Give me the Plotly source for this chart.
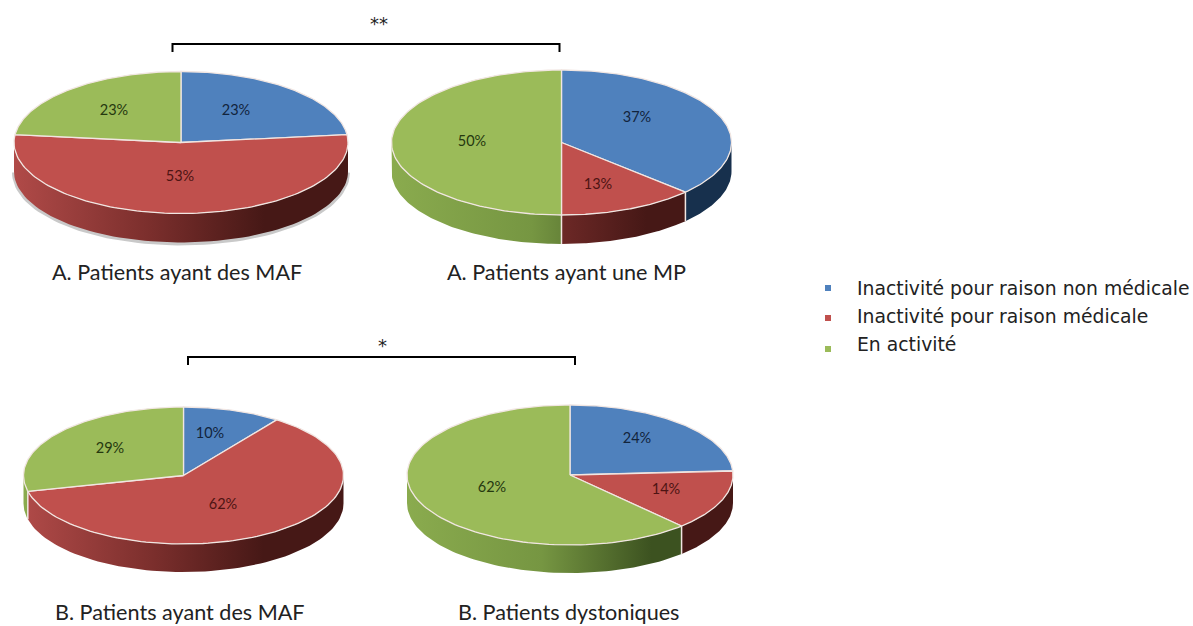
import numpy as np
import plotly.graph_objects as go

# ---- data ----
categories = ["Inactivité pour raison non médicale", "Inactivité pour raison médicale", "En activité"]
values_a_maf = [23, 53, 23]
values_a_mp = [37, 13, 50]
values_b_maf = [10, 62, 29]
values_b_dys = [24, 14, 62]
titles = ["A. Patients ayant des MAF", "A. Patients ayant une MP", "B. Patients ayant des MAF", "B. Patients dystoniques"]
brackets = ["**", "*"]

# ---- styles and placement (pixel space of the page) ----
W, H = 1193, 626
top_colors = ["#4f81bd", "#c0504d", "#9bbb59"]
wall_scales = [
    [[0, "#2a5078"], [1, "#17304d"]],
    [[0, "#b04a48"], [0.55, "#7a2e2c"], [1, "#461816"]],
    [[0, "#8aab4e"], [0.55, "#769642"], [1, "#3c5220"]],
]
text_colors = ["#12243c", "#4d1413", "#25380f"]
pies = [
    dict(values=values_a_maf, cx=181, cy=142.5, rx=167, ry=71, d=29,
         label_x=[236, 180, 114], label_y=[111, 177, 111], title_xy=(177, 272)),
    dict(values=values_a_mp, cx=561.5, cy=142.5, rx=170, ry=72.5, d=29,
         label_x=[637, 598, 472], label_y=[118, 185, 142], title_xy=(566, 272)),
    dict(values=values_b_maf, cx=183.5, cy=475.5, rx=160, ry=68.5, d=28,
         label_x=[210, 223, 110], label_y=[434, 505, 449], title_xy=(180, 611.5)),
    dict(values=values_b_dys, cx=570, cy=475, rx=163, ry=70, d=28,
         label_x=[637, 666, 492], label_y=[439, 490, 488], title_xy=(568, 611.5)),
]
bracket_boxes = [dict(x0=172.5, x1=559.5, y=44, drop=8, tx=379, ty=23),
                 dict(x0=188, x1=575, y=357, drop=8, tx=382, ty=345)]
legend_marker_x, legend_text_x = 828, 855
legend_y = [288, 316, 344]
legend_marker_y = [288, 318, 349]
rim = "#f1e6e2"


def ell(p, deg, dy=0.0):
    t = np.radians(deg)
    return p["cx"] + p["rx"] * np.sin(t), p["cy"] - p["ry"] * np.cos(t) + dy


fig = go.Figure()
for idx, p in enumerate(pies):
    frac = np.array(p["values"], float)
    edges = np.concatenate([[0], np.cumsum(frac / frac.sum() * 360)])

    # soft shadow under the first pie
    if idx == 0:
        a = np.linspace(90, 270, 80)
        x, y = ell(p, a, p["d"] + 1)
        fig.add_trace(go.Scatter(x=x, y=y, mode="lines", line=dict(color="rgba(120,120,120,0.4)", width=4),
                                 hoverinfo="skip", showlegend=False))

    # side walls: only the front half of the disc shows
    for k in range(3):
        a0, a1 = max(edges[k], 90), min(edges[k + 1], 270)
        if a1 <= a0:
            continue
        a = np.linspace(a0, a1, 80)
        xt, yt = ell(p, a)
        xb, yb = ell(p, a[::-1], p["d"])
        xs, ys = np.concatenate([xt, xb]), np.concatenate([yt, yb])
        # walls run light on the left to dark right of centre, across the whole disc
        fig.add_trace(go.Scatter(
            x=np.append(xs, xs[0]), y=np.append(ys, ys[0]), mode="lines", fill="toself",
            line=dict(width=0, color=top_colors[k]),
            fillgradient=dict(type="horizontal", colorscale=wall_scales[k],
                              start=float(p["cx"] - p["rx"]), stop=float(p["cx"] + 0.5 * p["rx"])),
            hoverinfo="skip", showlegend=False))

    # separators on the wall
    for e in edges:
        if 90 < (e % 360) < 270:
            x0, y0 = ell(p, e)
            x1, y1 = ell(p, e, p["d"])
            fig.add_trace(go.Scatter(x=[x0, x1], y=[y0, y1], mode="lines", line=dict(color=rim, width=1.5),
                                     hoverinfo="skip", showlegend=False))

    # top face slices
    for k in range(3):
        a = np.linspace(edges[k], edges[k + 1], 120)
        x, y = ell(p, a)
        xs = np.concatenate([[p["cx"]], x, [p["cx"]]])
        ys = np.concatenate([[p["cy"]], y, [p["cy"]]])
        fig.add_trace(go.Scatter(x=xs, y=ys, mode="lines", fill="toself", fillcolor=top_colors[k],
                                 line=dict(color=rim, width=1.3),
                                 name=categories[k], hovertemplate="%{fullData.name}<extra></extra>",
                                 showlegend=False))

    # percentage labels
    fig.add_trace(go.Scatter(x=p["label_x"], y=p["label_y"], mode="text", text=[f"{v}%" for v in p["values"]],
                             textfont=dict(family="Lato", size=14.5, color=text_colors),
                             hoverinfo="skip", showlegend=False))
    tx, ty = p["title_xy"]
    fig.add_annotation(x=tx, y=ty, text=titles[idx], showarrow=False, xanchor="center", yanchor="middle",
                       font=dict(family="Lato", size=21.6, color="#222222"))

# significance brackets
for b, s in zip(bracket_boxes, brackets):
    fig.add_trace(go.Scatter(x=[b["x0"], b["x0"], b["x1"], b["x1"]],
                             y=[b["y"] + b["drop"], b["y"], b["y"], b["y"] + b["drop"]],
                             mode="lines", line=dict(color="#000000", width=2), hoverinfo="skip", showlegend=False))
    fig.add_annotation(x=b["tx"], y=b["ty"], text=s, showarrow=False,
                       font=dict(family="DejaVu Sans", size=18, color="#222222"))

# legend
fig.add_trace(go.Scatter(x=[legend_marker_x] * 3, y=legend_marker_y, mode="markers",
                         marker=dict(symbol="square", size=6, color=top_colors),
                         hoverinfo="skip", showlegend=False))
for c, y in zip(categories, legend_y):
    fig.add_annotation(x=legend_text_x, y=y, text=c, showarrow=False, xanchor="left", yanchor="middle",
                       font=dict(family="DejaVu Sans", size=18.8, color="#222222"))

fig.update_layout(
    width=W, height=H, margin=dict(l=0, r=0, t=0, b=0), paper_bgcolor="white", plot_bgcolor="white",
    xaxis=dict(range=[0, W], visible=False, fixedrange=True),
    yaxis=dict(range=[H, 0], visible=False, fixedrange=True),
    showlegend=False,
)
fig.write_html("out.html", config={"displayModeBar": False},
               post_script="document.body.style.margin='0';document.documentElement.style.overflow='hidden';")
